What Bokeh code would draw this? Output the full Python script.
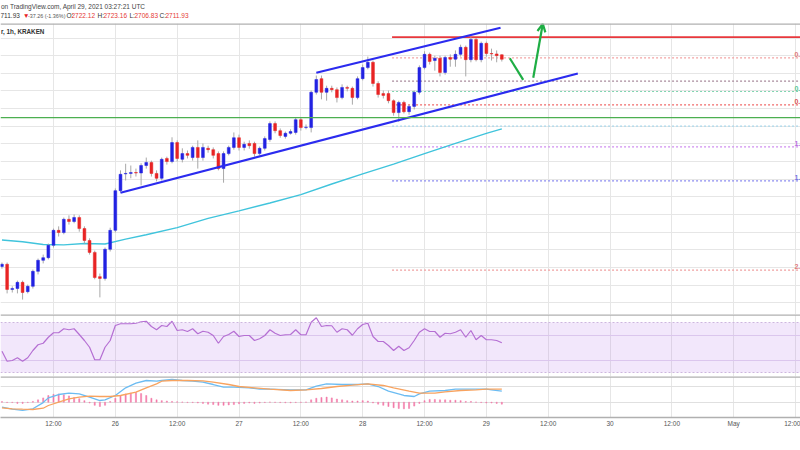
import pandas as pd
from bokeh.plotting import figure
from bokeh.layouts import column
from bokeh.models import (FixedTicker, Span, BoxAnnotation, Arrow, OpenHead,
                          Range1d, ColumnDataSource)
from bokeh.core.properties import value
from bokeh.embed import file_html
from bokeh.resources import INLINE

# ---------------- data (x = hours since 2021-04-25 00:00 UTC, 1h candles) ----
candle_hours = list(range(2, 100))
opens = [2242, 2247, 2190, 2192, 2206, 2185, 2197, 2231, 2256, 2262,
         2290, 2324, 2319, 2349, 2344, 2353, 2328, 2301, 2274, 2219,
         2215, 2281, 2324, 2414, 2452, 2453, 2455, 2454, 2471, 2478,
         2453, 2442, 2487, 2480, 2523, 2485, 2498, 2489, 2512, 2489,
         2510, 2507, 2498, 2464, 2498, 2512, 2534, 2512, 2521, 2521,
         2498, 2510, 2530, 2566, 2550, 2537, 2544, 2546, 2575, 2557,
         2557, 2637, 2668, 2637, 2646, 2643, 2625, 2648, 2646, 2625,
         2668, 2693, 2705, 2657, 2634, 2634, 2618, 2591, 2614, 2593,
         2605, 2637, 2693, 2723, 2709, 2714, 2682, 2716, 2712, 2723,
         2739, 2711, 2757, 2711, 2748, 2725, 2724, 2722.12]
highs = [2251, 2251, 2197, 2210, 2210, 2201, 2235, 2260, 2269, 2294,
         2328, 2333, 2353, 2358, 2360, 2358, 2333, 2306, 2278, 2226,
         2285, 2330, 2419, 2460, 2475, 2471, 2464, 2476, 2489, 2482,
         2460, 2489, 2491, 2535, 2528, 2510, 2505, 2516, 2528, 2521,
         2516, 2512, 2503, 2503, 2516, 2546, 2541, 2525, 2528, 2525,
         2514, 2537, 2571, 2571, 2555, 2548, 2553, 2580, 2580, 2564,
         2641, 2675, 2675, 2652, 2652, 2648, 2655, 2652, 2650, 2673,
         2700, 2718, 2709, 2662, 2641, 2641, 2621, 2618, 2618, 2609,
         2641, 2698, 2730, 2727, 2720, 2720, 2720, 2723, 2732, 2745,
         2743, 2762, 2760, 2752, 2752, 2736, 2732, 2723.16]
lows = [2237, 2181, 2183, 2181, 2167, 2181, 2192, 2224, 2249, 2258,
        2285, 2310, 2315, 2337, 2340, 2321, 2294, 2269, 2213, 2172,
        2210, 2276, 2319, 2410, 2437, 2442, 2446, 2426, 2464, 2446,
        2435, 2437, 2473, 2476, 2480, 2478, 2487, 2482, 2464, 2482,
        2500, 2487, 2460, 2432, 2494, 2507, 2505, 2505, 2509, 2491,
        2494, 2505, 2525, 2544, 2534, 2532, 2541, 2541, 2550, 2553,
        2546, 2632, 2621, 2618, 2637, 2614, 2621, 2639, 2609, 2621,
        2664, 2689, 2650, 2625, 2623, 2612, 2584, 2570, 2589, 2586,
        2598, 2632, 2689, 2700, 2686, 2673, 2677, 2695, 2695, 2718,
        2673, 2705, 2707, 2705, 2718, 2709, 2705, 2706.83]
closes = [2247, 2190, 2192, 2206, 2183, 2197, 2231, 2256, 2262, 2290,
          2324, 2319, 2349, 2344, 2353, 2328, 2301, 2274, 2217, 2215,
          2281, 2324, 2414, 2451, 2453, 2455, 2454, 2471, 2478, 2453,
          2442, 2485, 2480, 2523, 2487, 2498, 2494, 2512, 2489, 2512,
          2507, 2494, 2464, 2498, 2512, 2534, 2512, 2519, 2516, 2498,
          2510, 2532, 2566, 2550, 2539, 2544, 2548, 2575, 2557, 2558,
          2637, 2666, 2637, 2646, 2643, 2625, 2648, 2646, 2625, 2668,
          2693, 2705, 2657, 2632, 2630, 2618, 2591, 2614, 2593, 2605,
          2637, 2693, 2723, 2707, 2714, 2682, 2716, 2712, 2723, 2739,
          2711, 2757, 2711, 2748, 2725, 2724, 2720, 2711.93]

ema_hours = [2, 6, 10, 14, 18, 22, 26, 30, 36, 42, 48, 54, 60, 66, 72, 78, 84, 90, 96, 99]
ema_values = [2302, 2298, 2292, 2291, 2294, 2293, 2304, 2314, 2330, 2351,
              2368, 2386, 2405, 2429, 2452, 2474, 2498, 2521, 2544, 2554]

rsi_values = [47.0, 39.0, 39.6, 41.8, 39.0, 41.8, 47.6, 52.2, 53.4, 58.2,
              61.8, 61.8, 65.0, 64.2, 65.0, 60.4, 55.6, 50.2, 40.2, 40.2,
              50.2, 55.6, 67.6, 69.0, 69.0, 69.0, 69.4, 70.6, 71.0, 66.8,
              64.2, 67.6, 66.8, 71.0, 63.6, 64.2, 62.8, 65.0, 61.0, 63.0,
              62.2, 59.6, 53.4, 58.8, 60.4, 63.0, 58.8, 59.6, 59.6, 55.6,
              57.0, 59.6, 64.2, 61.4, 59.6, 60.2, 60.4, 64.2, 60.2, 60.2,
              70.2, 73.8, 66.8, 67.6, 67.4, 62.2, 65.0, 64.2, 59.8, 65.0,
              68.4, 69.4, 58.8, 54.8, 54.8, 51.6, 47.6, 51.0, 47.6, 49.8,
              55.6, 62.2, 65.0, 62.8, 62.8, 58.2, 61.4, 61.0, 62.2, 64.2,
              58.2, 63.6, 56.2, 59.6, 56.2, 56.2, 55.6, 53.8]

macd_hours = [2, 4, 6, 8, 10, 11, 13, 15, 17, 19, 21, 22, 24, 26, 28, 30, 32, 33, 35, 37,
              39, 41, 43, 45, 47, 50, 52, 54, 58, 61, 63, 65, 68, 71, 73, 75, 77, 80, 82, 83,
              85, 88, 90, 93, 96, 97, 99]
macd_values = [-12.7, -17.8, -21.1, -16.8, -1.0, 11.0, 19.6, 22.9, 21.4, 12.7,
               4.3, 6.1, 17.1, 36.7, 48.4, 55.3, 53.5, 55.3, 57.8, 55.3,
               53.5, 51.0, 45.1, 38.2, 38.2, 36.7, 33.1, 33.1, 31.6, 31.6,
               40.8, 46.9, 45.1, 45.1, 46.9, 40.0, 28.0, 17.1, 14.5, 21.4,
               28.0, 29.8, 33.1, 33.1, 33.1, 31.6, 28.0]
signal_hours = [2, 4, 6, 8, 10, 11, 13, 15, 17, 19, 21, 23, 25, 28, 30, 32, 33, 35, 38, 41,
                43, 46, 48, 51, 54, 58, 61, 64, 67, 70, 73, 76, 78, 81, 83, 86, 88, 91, 94, 96, 99]
signal_values = [-14.3, -16.8, -17.8, -18.6, -15.3, -8.4, 0.0, 8.7, 12.7, 15.3,
                 14.5, 14.5, 17.1, 25.5, 36.7, 46.9, 53.5, 55.3, 55.3, 54.5,
                 51.0, 45.1, 40.0, 36.7, 33.1, 29.8, 31.6, 34.9, 40.0, 43.3,
                 46.9, 42.6, 36.7, 28.0, 22.9, 22.9, 26.5, 29.8, 31.6, 33.1, 33.1]
hist_values = [1.5, -1, -1, -3, -3, -1, 2, 6, 11, 17,
               20, 21, 19, 16, 12, 9, 4, -2, -8, -11,
               -8, 2, 10, 17, 21, 23, 25, 22, 17, 10,
               6, 4, 3, 2, 1, 0.5, -1, -1, -2, -3,
               -5, -6, -8, -8, -7, -6, -4, -3, -2, -3,
               -2, -1, 0.5, -0.5, -1, -1.5, -1.5, -1, -0.5, 0.5,
               6, 10, 12, 13, 11, 8, 6, 4, 3, 3,
               4, 3, -2, -5, -8, -11, -14, -16, -17, -16,
               -10, -3, 4, 7, 7, 6, 6, 5, 5, 4,
               2, 2, 0.5, -1, -2, -2, -3, -5]

tick_hours = [12, 24, 36, 48, 60, 72, 84, 96, 108, 120, 132, 144, 156]
tick_labels = ["12:00", "26", "12:00", "27", "12:00", "28", "12:00", "29",
               "12:00", "30", "12:00", "May", "12:00"]
price_grid = [2160, 2200, 2240, 2280, 2320, 2360, 2400, 2440, 2480, 2520,
              2560, 2600, 2640, 2680, 2720, 2760]

fib_start_hour = 77.7
fib_prices = [2762.0, 2715.2, 2662.2, 2638.8, 2608.7, 2560.1, 2513.4, 2436.3, 2233.6]
fib_names = ["", "0.", "", "0.", "0.", "", "1.", "1.", "2."]
support_price = 2579.5
upper_channel_hours = [63.0, 98.75]
upper_channel_prices = [2681.2, 2783.3]
lower_channel_hours = [25.0, 113.75]
lower_channel_prices = [2409.1, 2679.6]
pullback_hours = [100.55, 103.15]
pullback_prices = [2714.3, 2665.3]
rebound_hours = [105.1, 106.95]
rebound_prices = [2669.9, 2792.3]

header_line1 = "on TradingView.com, April 29, 2021 03:27:21 UTC"
header_items = ["711.93", "▼", "-37.26 (-1.36%)", "O:", "2722.12", "H:", "2723.16",
                "L:", "2706.83", "C:", "2711.93"]
symbol_label = "r, 1h, KRAKEN"

# ---------------- styles ----------------
FONT = value("Liberation Sans")
GRID = "#e6e6e6"
SEP = "#b0b0b0"
UP = "#2222e2"
DOWN = "#e82424"
WICK = "#a8a8a8"
GREEN = "#1fae45"
CHANNEL = "#2b2bef"
VAL = "#e53935"
fib_colors = ["#e8383d", "#f2a3a3", "#a88a9c", "#7fd4b0", "#f06a6a",
              "#a9d8ec", "#cf8ef0", "#8c8cf0", "#f0a0a0"]
fib_label_colors = ["", "#e07a7a", "", "#5cc79a", "#d95454", "", "#b96ee0", "#7272e0", "#e07a7a"]
header_x = [0, 22.5, 27.5, 66, 71, 97, 103, 129, 134, 159, 165]
header_colors = ["#333333", DOWN, "#555555", "#333333", VAL, "#333333", VAL,
                 "#333333", VAL, "#333333", VAL]
header_sizes = ["6.5px", "6.5px", "5.4px"] + ["6.5px"] * 8

W = 800
XR = Range1d(1.715, 156.96)


def panel(height, y0, y1, **kw):
    opts = dict(width=W, height=height, x_range=XR, y_range=Range1d(y0, y1),
                output_backend="svg", toolbar_location=None,
                x_axis_location=None, y_axis_location=None, min_border=0,
                outline_line_color=None, background_fill_color="white",
                border_fill_color="white")
    opts.update(kw)
    f = figure(**opts)
    f.xgrid.ticker = FixedTicker(ticks=tick_hours)
    f.xgrid.grid_line_color = GRID
    return f


# ---------------- header ----------------
head = figure(width=W, height=23, x_range=Range1d(0, W), y_range=Range1d(0, 23),
              output_backend="svg", toolbar_location=None, x_axis_location=None,
              y_axis_location=None, min_border=0, outline_line_color=None)
head.grid.visible = False
head.text(x=[0.5], y=[17], text=[header_line1], text_font=FONT, text_font_size="6.5px",
          text_color="#444444", text_align="left", text_baseline="middle")
for txt, hx, col, fs in zip(header_items, header_x, header_colors, header_sizes):
    head.text(x=[hx], y=[8], text=[txt], text_font=FONT, text_font_size=fs,
              text_color=col, text_align="left", text_baseline="middle")

# ---------------- main price panel ----------------
main = panel(291, 2133.15, 2793.0)
main.ygrid.ticker = FixedTicker(ticks=price_grid)
main.ygrid.grid_line_color = GRID

for i, (lvl, col) in enumerate(zip(fib_prices, fib_colors)):
    if i == 0:
        main.segment(x0=[fib_start_hour], x1=[170], y0=[lvl], y1=[lvl],
                     line_color=col, line_width=1.6)
    else:
        main.segment(x0=[fib_start_hour], x1=[170], y0=[lvl], y1=[lvl],
                     line_color=col, line_width=1.2, line_dash="2 2")

main.line(ema_hours, ema_values, line_color="#40c4dc", line_width=1.4)

body_top = [max(o, c) for o, c in zip(opens, closes)]
body_bot = [min(o, c) for o, c in zip(opens, closes)]
colors = [UP if c >= o else DOWN for o, c in zip(opens, closes)]
src = ColumnDataSource(dict(h=candle_hours, hi=highs, lo=lows, top=body_top,
                            bot=body_bot, col=colors))
main.segment(x0="h", y0="lo", x1="h", y1="hi", source=src, line_color=WICK, line_width=1)
main.vbar(x="h", width=0.55, top="top", bottom="bot", source=src,
          fill_color="col", line_color="col", line_width=0.5)

main.add_layout(Span(location=support_price, dimension="width",
                     line_color="#4caf50", line_width=1.4))

main.line(upper_channel_hours, upper_channel_prices, line_color=CHANNEL, line_width=2.2)
main.line(lower_channel_hours, lower_channel_prices, line_color=CHANNEL, line_width=2.2)
main.line(pullback_hours, pullback_prices, line_color=GREEN, line_width=2.2)
main.add_layout(Arrow(end=OpenHead(size=8, line_color=GREEN, line_width=2.2),
                      x_start=rebound_hours[0], y_start=rebound_prices[0],
                      x_end=rebound_hours[1], y_end=rebound_prices[1],
                      line_color=GREEN, line_width=2.2))

lab_p, lab_t, lab_c = [], [], []
for lvl, name, col in zip(fib_prices, fib_names, fib_label_colors):
    if name:
        lab_p.append(lvl + 2.0)
        lab_t.append(name)
        lab_c.append(col)
main.text(x=[XR.end - 0.05] * len(lab_p), y=lab_p, text=lab_t, text_color=lab_c,
          text_font=FONT, text_font_size="7px", text_font_style="bold",
          text_align="right", text_baseline="bottom")

main.text(x=[XR.start + 0.1], y=[2775.1], text=[symbol_label],
          text_font=FONT, text_font_size="6.3px", text_font_style="bold",
          text_color="#333333", text_align="left", text_baseline="middle")
main.add_layout(Span(location=2793.0, dimension="width", line_color=SEP, line_width=2.5))

# ---------------- RSI panel ----------------
rsi = panel(62, 26.8, 76.4)
rsi.ygrid.ticker = FixedTicker(ticks=[40, 60])
rsi.ygrid.grid_line_color = "#e4d8ee"
rsi.add_layout(BoxAnnotation(bottom=30, top=70, fill_color="#b36ee8", fill_alpha=0.17,
                             line_color=None, level="underlay"))
for lv in (30, 70):
    rsi.add_layout(Span(location=lv, dimension="width", line_color="#cdb6de",
                        line_width=1, line_dash="2 2"))
rsi.line(candle_hours, rsi_values, line_color="#b56fd3", line_width=1.2)
rsi.add_layout(Span(location=76.4, dimension="width", line_color=SEP, line_width=2.5))

# ---------------- MACD panel ----------------
macd = panel(55, -39.0, 65.5, x_axis_location="below", min_border_bottom=14)
macd.ygrid.ticker = FixedTicker(ticks=[0, 40])
macd.ygrid.grid_line_color = "#e0e0e0"
hist_top = [max(v, 0) for v in hist_values]
hist_bot = [min(v, 0) for v in hist_values]
macd.vbar(x=candle_hours, width=0.22, top=hist_top, bottom=hist_bot,
          fill_color="#f27ba9", line_color="#f27ba9", line_width=0.5)
macd.line(macd_hours, macd_values, line_color="#6cbcf2", line_width=1.3)
macd.line(signal_hours, signal_values, line_color="#f8a35f", line_width=1.3)
macd.add_layout(Span(location=65.5, dimension="width", line_color=SEP, line_width=2.5))

ax = macd.xaxis[0]
ax.ticker = FixedTicker(ticks=tick_hours)
ax.major_label_overrides = dict(zip(tick_hours, tick_labels))
ax.major_tick_line_color = None
ax.minor_tick_line_color = None
ax.major_tick_out = 0
ax.major_tick_in = 0
ax.axis_line_color = SEP
ax.axis_line_width = 1.5
ax.major_label_standoff = 2
ax.major_label_text_font = "Liberation Sans"
ax.major_label_text_font_size = "6.5px"
ax.major_label_text_color = "#555555"

# ---------------- bottom rule ----------------
rule = figure(width=W, height=2, x_range=XR, y_range=Range1d(0, 1),
              output_backend="svg", toolbar_location=None, x_axis_location=None,
              y_axis_location=None, min_border=0, outline_line_color=None,
              background_fill_color=SEP, border_fill_color=SEP)
rule.grid.visible = False

p = column(head, main, rsi, macd, rule, spacing=0)

open("out.html", "w").write(file_html(p, INLINE))
